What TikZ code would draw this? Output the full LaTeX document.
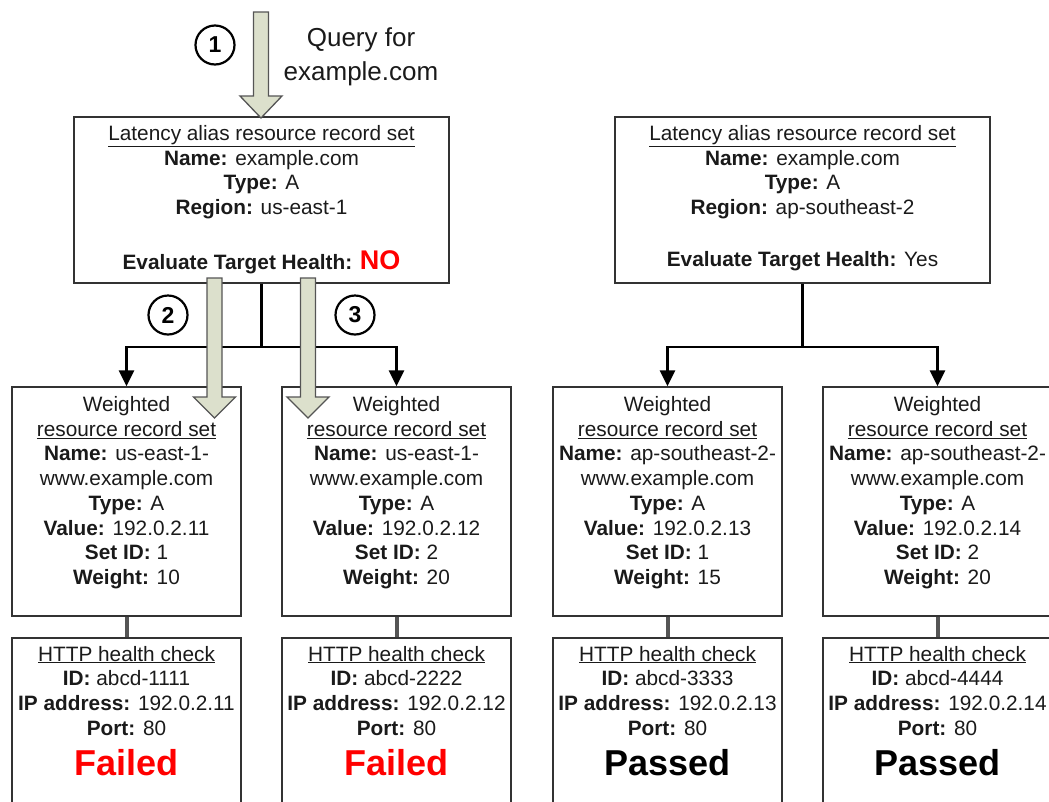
\documentclass[tikz,border=0pt]{standalone}
\usepackage{fontspec}
\setmainfont{Liberation Sans}
\usetikzlibrary{arrows.meta}
\definecolor{txt}{HTML}{1A1A1A}
\definecolor{boxline}{HTML}{333333}
\definecolor{afill}{RGB}{220,224,204}
\definecolor{aline}{HTML}{555555}
\definecolor{hcline}{HTML}{555555}
\definecolor{alert}{HTML}{FF0000}
\newcommand\grayarrow[4]{%
  \draw[garr] (#1-7.5,#2) -- (#1+7.5,#2) -- (#1+7.5,#3) -- (#1+21,#3) -- (#1,#4) -- (#1-21,#3) -- (#1-7.5,#3) -- cycle;}
\begin{document}
\begin{tikzpicture}[x=1pt,y=-1pt,
  box/.style={draw=boxline, line width=1.3pt, rectangle, inner sep=0pt},
  topbox/.style={box, minimum width=375pt, minimum height=166pt},
  wbox/.style={box, minimum width=229pt, minimum height=229pt},
  hbox/.style={box, minimum width=229pt, minimum height=200pt},
  txtblock/.style={align=center, anchor=base, inner sep=0pt, text=txt, font=\fontsize{20.8}{24.7}\selectfont},
  bigword/.style={anchor=base, inner sep=0pt, font=\fontsize{36}{36}\selectfont\bfseries},
  circ/.style={circle, draw=black, line width=2.2pt, minimum size=39pt, inner sep=0pt, text=black, font=\fontsize{23}{23}\selectfont\bfseries},
  conn/.style={draw=black, line width=2.7pt},
  tip/.style={-{Triangle[width=15pt,length=16pt]}},
  hc/.style={draw=hcline, line width=4pt},
  garr/.style={draw=aline, line width=1.3pt, fill=afill, line join=miter}
]
\useasboundingbox (0,0) rectangle (1049,801);

% top boxes
\node[topbox] (tl) at (261.5,200) {};
\node[topbox] (tr) at (802.5,200) {};
\node[txtblock] (tlt) at (261.5,214.6) {\underline{Latency alias resource record set}\\ \textbf{Name:} example.com\\ \textbf{Type:} A\\ \textbf{Region:} us-east-1};
\node[txtblock] (tle) at (261.5,269) {\textbf{Evaluate Target Health:} {\color{alert}\fontsize{27}{27}\selectfont\bfseries NO}};
\node[txtblock] (trt) at (802.5,214.6) {\underline{Latency alias resource record set}\\ \textbf{Name:} example.com\\ \textbf{Type:} A\\ \textbf{Region:} ap-southeast-2};
\node[txtblock] (tre) at (802.5,266) {\textbf{Evaluate Target Health:} Yes};

% weighted boxes
\node[wbox] (w1) at (126.5,501.5) {};
\node[wbox] (w2) at (396.5,501.5) {};
\node[wbox] (w3) at (667.5,501.5) {};
\node[wbox] (w4) at (937.5,501.5) {};
\node[txtblock] (w1t) at (126.5,584.4) {Weighted\\ \underline{resource record set}\\ \textbf{Name:} us-east-1-\\ www.example.com\\ \textbf{Type:} A\\ \textbf{Value:} 192.0.2.11\\ \textbf{Set ID:} 1\\ \textbf{Weight:} 10};
\node[txtblock] (w2t) at (396.5,584.4) {Weighted\\ \underline{resource record set}\\ \textbf{Name:} us-east-1-\\ www.example.com\\ \textbf{Type:} A\\ \textbf{Value:} 192.0.2.12\\ \textbf{Set ID:} 2\\ \textbf{Weight:} 20};
\node[txtblock] (w3t) at (667.5,584.4) {Weighted\\ \underline{resource record set}\\ \textbf{Name:} ap-southeast-2-\\ www.example.com\\ \textbf{Type:} A\\ \textbf{Value:} 192.0.2.13\\ \textbf{Set ID:} 1\\ \textbf{Weight:} 15};
\node[txtblock] (w4t) at (937.5,584.4) {Weighted\\ \underline{resource record set}\\ \textbf{Name:} ap-southeast-2-\\ www.example.com\\ \textbf{Type:} A\\ \textbf{Value:} 192.0.2.14\\ \textbf{Set ID:} 2\\ \textbf{Weight:} 20};

% health check boxes
\node[hbox] (h1) at (126.5,738) {};
\node[hbox] (h2) at (396.5,738) {};
\node[hbox] (h3) at (667.5,738) {};
\node[hbox] (h4) at (937.5,738) {};
\node[txtblock] (h1t) at (126.5,735.1) {\underline{HTTP health check}\\ \textbf{ID:} abcd-1111\\ \textbf{IP address:} 192.0.2.11\\ \textbf{Port:} 80};
\node[txtblock] (h2t) at (396.5,735.1) {\underline{HTTP health check}\\ \textbf{ID:} abcd-2222\\ \textbf{IP address:} 192.0.2.12\\ \textbf{Port:} 80};
\node[txtblock] (h3t) at (667.5,735.1) {\underline{HTTP health check}\\ \textbf{ID:} abcd-3333\\ \textbf{IP address:} 192.0.2.13\\ \textbf{Port:} 80};
\node[txtblock] (h4t) at (937.5,735.1) {\underline{HTTP health check}\\ \textbf{ID:} abcd-4444\\ \textbf{IP address:} 192.0.2.14\\ \textbf{Port:} 80};
\node[bigword, text=alert] (s1) at (126.5,775) {Failed};
\node[bigword, text=alert] (s2) at (396.5,775) {Failed};
\node[bigword, text=black] (s3) at (667.5,775) {Passed};
\node[bigword, text=black] (s4) at (937.5,775) {Passed};

% tree connectors
\coordinate (jL) at (261.5,347);
\coordinate (jR) at (802.5,347);
\draw[conn] (tl.south) -- (jL);
\draw[conn,tip] (jL) -| (w1.north);
\draw[conn,tip] (jL) -| (w2.north);
\draw[conn] (tr.south) -- (jR);
\draw[conn,tip] (jR) -| (w3.north);
\draw[conn,tip] (jR) -| (w4.north);

% health links
\draw[hc] (w1.south) -- (h1.north);
\draw[hc] (w2.south) -- (h2.north);
\draw[hc] (w3.south) -- (h3.north);
\draw[hc] (w4.south) -- (h4.north);

% query label and step circles
\node[align=center, anchor=base, inner sep=0pt, text=txt, font=\fontsize{26}{34}\selectfont] (q) at (361,80) {Query for\\example.com};
\node[circ] (c1) at (215,45) {1};
\node[circ] (c2) at (168,315) {2};
\node[circ] (c3) at (355,315) {3};

% gray flow arrows
\grayarrow{261}{12}{96}{118}
\grayarrow{214.5}{278}{397}{418}
\grayarrow{308}{278}{397}{418}
\end{tikzpicture}
\end{document}
